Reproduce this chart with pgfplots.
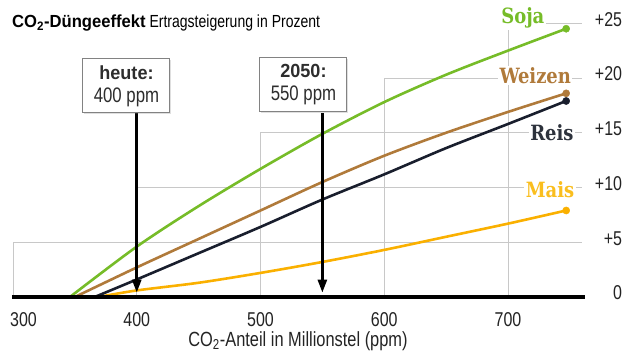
\documentclass[border=0pt]{standalone}
\usepackage{pgfplots}
\pgfplotsset{compat=1.18}
\usepackage{pgfplotstable}
\usepackage{fontspec}
\setmainfont[FakeStretch=0.8]{Liberation Sans}
\newfontfamily\widesans[FakeStretch=0.95]{Liberation Sans}
\newfontfamily\slab[FakeStretch=0.95]{DejaVu Serif Condensed}
\usetikzlibrary{arrows.meta,shadows}
\definecolor{soja}{RGB}{118,188,40}
\definecolor{weizen}{RGB}{176,122,58}
\definecolor{reis}{RGB}{25,30,45}
\definecolor{mais}{RGB}{250,176,0}
\definecolor{gridc}{RGB}{200,200,200}
\definecolor{txt}{RGB}{35,35,35}

\pgfplotstableread{
x y
346 0
400 4.6
450 8.3
500 11.7
550 14.9
600 17.8
650 20.3
700 22.5
747 24.5
}\soja
\pgfplotstableread{
x y
350 0
400 2.7
450 5.3
500 7.9
550 10.5
600 12.9
650 15.0
700 16.9
747 18.6
}\weizen
\pgfplotstableread{
x y
366 0
400 1.6
450 4.0
500 6.4
550 8.9
600 11.2
650 13.6
700 15.8
747 17.9
}\reis
\pgfplotstableread{
x y
369 0
400 0.6
450 1.3
500 2.2
550 3.2
600 4.3
650 5.5
700 6.7
747 7.9
}\mais

\begin{document}
\begin{tikzpicture}
\useasboundingbox (0,0) rectangle (624pt,351pt);
\begin{axis}[
  at={(13pt,54pt)}, anchor=south west,
  scale only axis, width=569.25pt, height=295.65pt,
  xmin=300, xmax=760, ymin=0, ymax=27,
  clip=false,
  axis line style={draw=none},
  tick style={draw=none},
  xtick={300,400,500,600,700},
  xticklabels={\hspace*{21pt}300,400,500,600,700},
  xticklabel style={anchor=base, yshift=-29pt, inner sep=0pt, font=\fontsize{20}{20}\selectfont, text=txt},
  ytick={0,5,10,15,20,25},
  yticklabels={0,+5,+10,+15,+20,+25},
  yticklabel pos=right,
  yticklabel style={anchor=east, xshift=40pt, yshift=4pt, inner sep=0pt, font=\fontsize{20}{20}\selectfont, text=txt},
]
% stepped grid
\addplot[gridc, line width=1pt, mark=none] coordinates {(300,0) (300,5) (760,5)};
\addplot[gridc, line width=1pt, mark=none] coordinates {(400,0) (400,10) (760,10)};
\addplot[gridc, line width=1pt, mark=none] coordinates {(500,0) (500,15) (760,15)};
\addplot[gridc, line width=1pt, mark=none] coordinates {(600,0) (600,20) (760,20)};
\addplot[gridc, line width=1pt, mark=none] coordinates {(700,0) (700,25) (760,25)};

% curves
\addplot[mais, line width=2.6pt, smooth, mark=none] table {\mais};
\addplot[reis, line width=2.6pt, smooth, mark=none] table {\reis};
\addplot[weizen, line width=2.6pt, smooth, mark=none] table {\weizen};
\addplot[soja, line width=2.6pt, smooth, mark=none] table {\soja};
\addplot[only marks, mark=*, mark size=3.6pt, mais] coordinates {(747,7.9)};
\addplot[only marks, mark=*, mark size=3.6pt, reis] coordinates {(747,17.9)};
\addplot[only marks, mark=*, mark size=3.6pt, weizen] coordinates {(747,18.6)};
\addplot[only marks, mark=*, mark size=3.6pt, soja] coordinates {(747,24.5)};

% series labels
\node[font=\slab\bfseries\fontsize{21}{21}\selectfont, text=soja, fill=white, inner sep=1.5pt] at (axis cs:712,25.5) {Soja};
\node[font=\slab\bfseries\fontsize{21}{21}\selectfont, text=weizen, fill=white, inner sep=1.5pt] at (axis cs:722,20.2) {Weizen};
\node[font=\slab\bfseries\fontsize{21}{21}\selectfont, text={rgb,255:red,45;green,50;blue,60}, fill=white, inner sep=1.5pt] at (axis cs:735.5,15) {Reis};
\node[font=\slab\bfseries\fontsize{21}{21}\selectfont, text={rgb,255:red,250;green,190;blue,30}, fill=white, inner sep=1.5pt] at (axis cs:734,9.8) {Mais};

% arrows
\draw[line width=2.6pt, black, -{Triangle[length=13pt,width=9pt]}] (axis cs:400,16.8) -- (axis cs:400,0.4);
\draw[line width=2.6pt, black, -{Triangle[length=13pt,width=9pt]}] (axis cs:550,16.8) -- (axis cs:550,0.4);

% boxes
\node[draw={rgb,255:red,130;green,130;blue,130}, fill=white, line width=1pt, minimum width=87pt, minimum height=54pt, inner sep=0pt, align=center, text={rgb,255:red,45;green,45;blue,45}, font=\fontsize{21}{23}\selectfont, drop shadow={shadow xshift=1.5pt, shadow yshift=-1.5pt, opacity=0.25}] at (axis cs:391.7,19.27) {{\widesans\bfseries\fontsize{19}{23}\selectfont heute:}\\400 ppm};
\node[draw={rgb,255:red,130;green,130;blue,130}, fill=white, line width=1pt, minimum width=87pt, minimum height=54pt, inner sep=0pt, align=center, text={rgb,255:red,45;green,45;blue,45}, font=\fontsize{21}{23}\selectfont, drop shadow={shadow xshift=1.5pt, shadow yshift=-1.5pt, opacity=0.25}] at (axis cs:534.7,19.4) {{\widesans\bfseries\fontsize{19}{23}\selectfont 2050:}\\550 ppm};

% baseline
\draw[line width=4pt, black] (axis cs:299,0) -- (axis cs:762,0);
\end{axis}
\node[anchor=base west, inner sep=0pt, text=black, font=\fontsize{17.5}{17.5}\selectfont] at (12pt,323pt) {{\widesans\bfseries CO\textsubscript{2}-Düngeeffekt} Ertragsteigerung in Prozent};
\node[anchor=base, inner sep=0pt, text=txt, font=\fontsize{20.5}{20.5}\selectfont] at (298pt,5pt) {CO\textsubscript{2}-Anteil in Millionstel (ppm)};
\end{tikzpicture}
\end{document}
